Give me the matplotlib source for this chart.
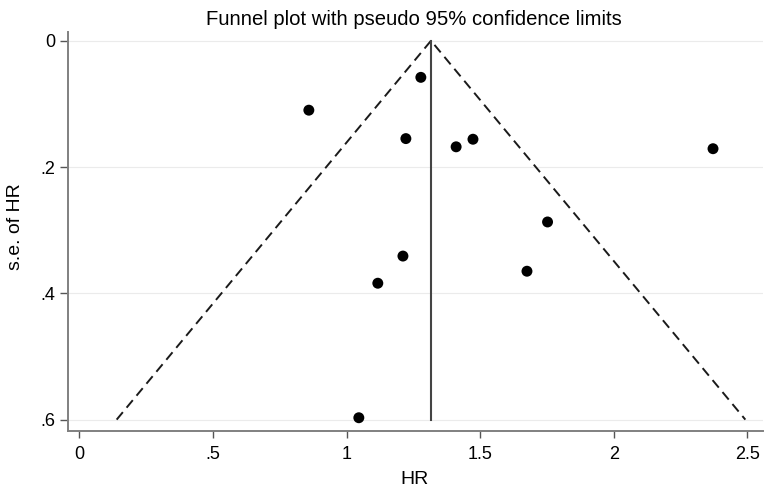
import matplotlib
matplotlib.use("Agg")
import matplotlib.pyplot as plt

hr = [1.278, 0.859, 1.222, 1.410, 1.473, 1.752, 2.371, 1.211, 1.117, 1.675, 1.046]
se = [0.058, 0.110, 0.155, 0.168, 0.156, 0.287, 0.171, 0.341, 0.384, 0.365, 0.597]
pooled = 1.316
se_max = 0.6
xticks = [0, 0.5, 1, 1.5, 2, 2.5]
xticklabels = ["0", ".5", "1", "1.5", "2", "2.5"]
yticks = [0, 0.2, 0.4, 0.6]
yticklabels = ["0", ".2", ".4", ".6"]

plt.rcParams['font.family'] = ['Liberation Sans', 'DejaVu Sans']

W, H = 765, 491
fig = plt.figure(figsize=(W / 100, H / 100), dpi=100)
left, right, top, bottom = 68, 763, 32, 431
ax = fig.add_axes([left / W, 1 - bottom / H, (right - left) / W, (bottom - top) / H])

for y in yticks:
    ax.axhline(y, color='#ebebeb', lw=0.8, zorder=0)

ax.plot([pooled - 1.96 * se_max, pooled, pooled + 1.96 * se_max], [se_max, 0, se_max],
        ls=(0, (5, 3)), color='#1a1a1a', lw=1.4, zorder=2)
ax.plot([pooled, pooled], [0, se_max], color='#444444', lw=1.5, zorder=2)
ax.scatter(hr, se, s=62, color='black', zorder=3, edgecolors='none')

ax.set_xlim(-0.042, 2.558)
ax.set_ylim(0.618, -0.0138)
ax.set_xticks(xticks)
ax.set_xticklabels(xticklabels)
ax.set_yticks(yticks)
ax.set_yticklabels(yticklabels)
for s in ['top', 'right']:
    ax.spines[s].set_visible(False)
for s in ['left', 'bottom']:
    ax.spines[s].set_color('#808080')
    ax.spines[s].set_linewidth(1.4)
ax.tick_params(axis='x', direction='out', length=5, width=1, color='#555555', labelsize=13, pad=6)
ax.tick_params(axis='y', direction='out', length=6, width=1, color='#555555', labelsize=13, pad=3)

fig.text(0.541, 1 - 25 / H, "Funnel plot with pseudo 95% confidence limits",
         ha='center', va='baseline', fontsize=14.6)
fig.text(414 / W, 1 - 480 / H, "HR", ha='center', va='center', fontsize=14)
fig.text(15 / W, 1 - 227 / H, "s.e. of HR", ha='center', va='center', rotation=90, fontsize=14)

fig.savefig("out.png", dpi=100)
